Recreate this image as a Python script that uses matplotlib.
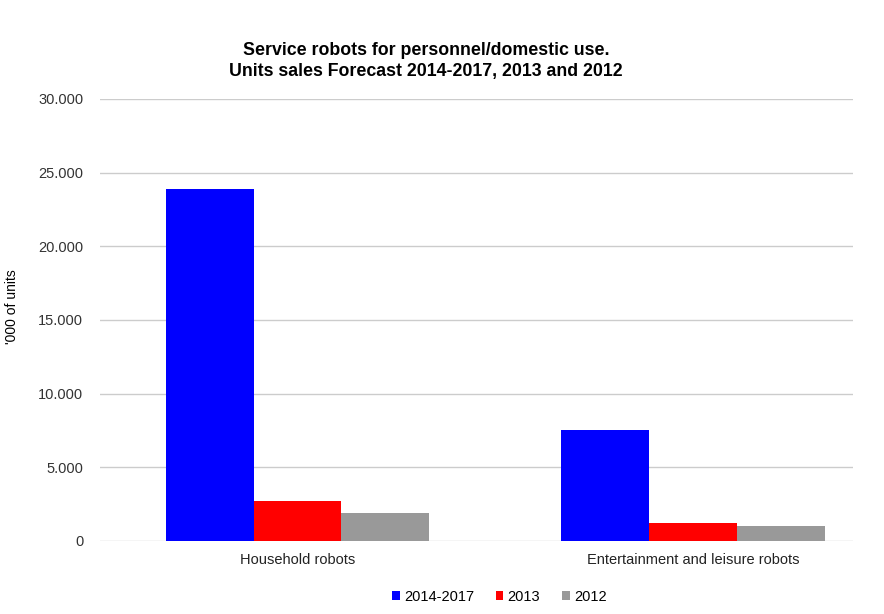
import numpy as np
import matplotlib.pyplot as plt
from matplotlib.ticker import FuncFormatter

categories = ['Household robots', 'Entertainment and leisure robots']
series = ['2014-2017', '2013', '2012']
forecast_2014_2017 = [23900, 7500]
sales_2013 = [2700, 1200]
sales_2012 = [1900, 1000]
colors = ['#0000ff', '#ff0000', '#999999']


def main():
    plt.rcParams['font.family'] = ['Liberation Sans', 'DejaVu Sans']
    fig = plt.figure(figsize=(8.84, 6.14), dpi=100)
    ax = fig.add_axes([0.113, 0.119, 0.852, 0.72])

    x = np.arange(len(categories))
    w = 0.222
    values = [forecast_2014_2017, sales_2013, sales_2012]
    for i, (name, vals) in enumerate(zip(series, values)):
        ax.bar(x + (i - 1) * w, vals, width=w, color=colors[i], label=name, zorder=3)

    ax.set_xlim(-0.5, 1.405)
    ax.set_ylim(0, 30000)
    ax.set_yticks(range(0, 30001, 5000))
    ax.yaxis.set_major_formatter(FuncFormatter(lambda v, p: f'{int(v):,}'.replace(',', '.')))
    ax.set_xticks(x)
    ax.set_xticklabels(categories, fontsize=10.5, color='#222222')
    ax.tick_params(axis='x', length=0, pad=9)
    ax.tick_params(axis='y', length=0, labelsize=10.5, labelcolor='#333333', pad=12)
    ax.grid(axis='y', color='#cccccc', linewidth=1, zorder=0)
    for s in ax.spines.values():
        s.set_visible(False)

    ax.set_ylabel("'000 of units", fontsize=10)
    ax.yaxis.set_label_coords(-0.108, 0.53)

    fig.text(0.482, 0.901, 'Service robots for personnel/domestic use.\nUnits sales Forecast 2014-2017, 2013 and 2012',
             ha='center', va='center', fontsize=12.8, fontweight='bold', linespacing=1.3)

    fig.legend(loc='center', bbox_to_anchor=(0.565, 0.028), ncol=3, frameon=False,
               fontsize=10.5, handlelength=0.5, handleheight=0.5, handletextpad=0.3,
               columnspacing=1.5)

    fig.savefig('out.png', dpi=100)


if __name__ == "__main__":
    main()
